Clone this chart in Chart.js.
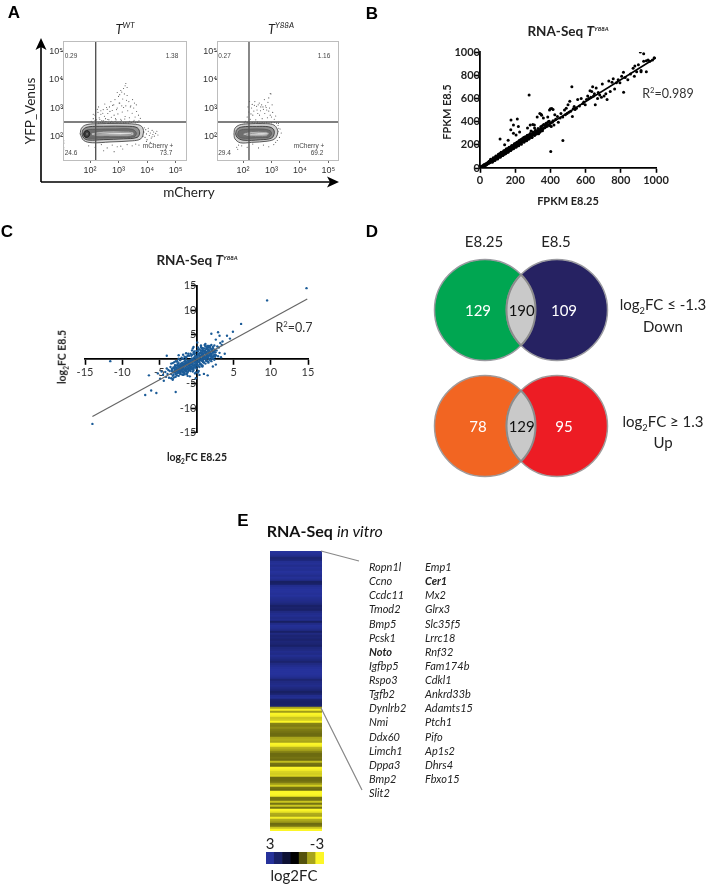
<!DOCTYPE html>
<html><head><meta charset="utf-8">
<script src="https://cdn.jsdelivr.net/npm/chart.js@4"></script>
<style>
html,body{margin:0;padding:0;background:#fff;width:709px;height:886px;overflow:hidden}
#root{position:absolute;left:0;top:0;width:709px;height:886px;filter:blur(.35px)}
canvas{position:absolute}
.t{position:absolute;white-space:nowrap;font-family:Lato,sans-serif;color:#222;line-height:1}
.t sup,.t sub{font-size:62%;line-height:0}
svg{position:absolute;left:0;top:0}
</style></head><body><div id="root">
<svg width="709" height="886" id="ov" style="z-index:5">
<path d="M41 182V44M41 182H332" stroke="#000" stroke-width="1.6" fill="none"/>
<path d="M41 38L35.500 50L41 47L46.500 50Z M339 182L327 176.500L330 182L327 187.500Z" fill="#000"/>
<path d="M321 551L359 561M321 708L362 790" stroke="#888" stroke-width="1.2" fill="none"/>
</svg>
</div>
<script>
// ---------- Panel A: flow cytometry ----------
const flowTicks=[100,1000,10000,100000];
const flowTickLabels=['10²','10³','10⁴','10⁵'];
const wtX=[110,130,150,170,190,210,240,260,290,320,350,380,420,460,500,560,620,700,780,850,950,1050,1200,1350,1500,1700,1900,2100,2400,2700,3000,3400,3800,4300,5000,5800,
130,180,200,240,280,330,400,480,540,600,680,750,900,1000,1100,1300,1400,1600,1800,2000,2300,2600,3100,3600,4200,900,1200,1500,1700,1800,2000,1100,1300,
7200,7800,8500,9000,9500,10000,11000,12000,13000,14000,15000,16000,17000,18000,20000,22000,24000,8000,9500,11000,13000,15000,
90,150,250,400,600,900,1400,2000,3000,4000,5200,300,700,1200,12,12,12,12,12,40,45,50,55,60,70,80,
120,160,200,230,270,310,360,440,520,640,760,880,1000,1150,1500,1800,2200,2800,3300,3900,4700,150,220,300,420,580,820,1250,1650,2400,3500,5200];
const wtY=[340,420,560,380,700,450,600,360,880,510,420,1050,640,380,760,470,1250,560,420,880,620,1500,400,720,1050,500,1900,800,450,1200,650,1000,480,750,560,430,
600,900,1100,800,650,1400,900,1100,1700,820,1300,2000,1000,2600,1500,1200,2100,3200,1200,2800,1700,1100,2000,1500,1300,3600,4200,5000,6200,7500,5400,3000,3700,
100,140,90,170,120,75,150,105,130,85,160,115,140,100,125,150,110,200,65,190,60,95,
45,40,50,38,48,42,35,50,45,52,48,30,28,44,35,40,55,62,70,12,12,12,12,12,12,12,
300,310,295,305,315,300,330,295,310,300,340,305,295,320,300,310,295,305,330,300,310,360,400,350,390,340,380,360,410,340,370,350];
const yX=[120,140,160,180,200,220,250,280,310,340,380,420,470,520,580,650,720,800,900,1000,1100,1250,1400,
150,170,190,210,240,260,300,330,370,410,450,500,560,620,680,750,850,950,800,900,1050,
1500,1700,1900,2200,1600,1800,2000,1400,1700,90,140,220,350,520,800,1200,60,65,70,12.300,12.300,12.300,12.300,45,55,65,80,
110,140,170,210,260,320,390,470,560,680,820,1000,1250,1500,1750];
const yY=[340,480,720,400,1000,560,1250,380,850,1300,560,1100,420,900,640,1050,450,780,560,480,700,400,520,
1100,1700,620,1350,780,1700,1150,640,1500,800,1300,1100,2000,1200,850,1600,1000,3200,2300,3300,1300,
110,150,90,130,70,190,180,60,240,45,40,52,38,48,42,50,40,34,48,38,45,58,70,12.500,12.500,12.500,12.500,
300,310,295,305,300,315,295,305,300,310,295,300,305,290,285];
const wtContours=[
 [[45,120],[50,190],[70,250],[150,275],[1000,280],[4000,265],[6500,220],[7500,140],[6000,80],[3000,68],[500,62],[120,58],[60,70],[45,120]],
 [[52,120],[58,175],[90,215],[300,225],[2000,225],[4500,200],[5500,130],[4500,90],[1500,80],[300,75],[90,72],[60,85],[52,120]],
 [[58,120],[70,160],[150,175],[800,180],[3000,175],[4200,130],[3500,95],[1000,88],[200,85],[80,85],[62,100],[58,120]],
 [[110,130],[300,150],[1500,150],[3200,140],[3400,110],[2000,100],[500,100],[120,105],[110,130]],
 [[140,120],[500,130],[2800,130],[2800,115],[500,112],[140,115],[140,120]],
 [[60,118],[68,150],[85,155],[98,125],[88,95],[68,92],[60,118]],
 [[72,120],[78,132],[86,120],[78,108],[72,120]]];
const yContours=[
 [[48,120],[52,190],[75,250],[150,275],[500,280],[1100,260],[1500,200],[1650,130],[1300,80],[700,66],[200,60],[80,58],[52,80],[48,120]],
 [[55,120],[60,170],[90,212],[300,222],[800,215],[1150,180],[1250,125],[1000,85],[400,74],[100,72],[62,90],[55,120]],
 [[65,120],[75,160],[150,176],[500,178],[900,155],[1000,120],[800,92],[300,86],[90,85],[68,100],[65,120]],
 [[100,125],[200,145],[600,145],[820,125],[650,100],[200,98],[105,108],[100,125]],
 [[130,118],[350,130],[780,126],[700,112],[300,110],[135,112],[130,118]]];
const contourFill=['#d0d0d0','#8e8e8e','#6e6e6e','#bdbdbd','#f6f6f6','#3e3e3e','#e4e4e4'];
const contourLine=['#333','#2a2a2a','#555','#666','#888','#111','#222'];
const wtGate={x:158,y:320},yGate={x:162,y:320};
const flowXRange=[[11.300,251000],[12.200,234000]],flowYRange=[13,245000];
const wtQuad=['0.29','1.38','24.6','73.7'],yQuad=['0.27','1.16','29.4','69.2'];

// ---------- Panel B ----------
const bE825=[3,5,8,10,12,15,18,20,22,25,28,30,33,35,38,40,42,45,48,50,52,55,58,60,63,65,68,70,72,75,78,80,83,85,88,90,92,95,98,100,
100,103,105,108,110,112,115,118,120,122,125,128,130,133,135,138,140,142,145,148,150,153,155,158,160,163,165,168,170,172,175,178,180,183,185,188,190,192,195,198,200,
105,115,125,135,145,155,165,175,185,195,60,70,80,90,100,110,120,130,140,150,160,170,
203,205,208,210,212,215,218,220,222,225,228,230,233,235,238,240,243,245,248,250,253,255,258,260,263,265,268,270,273,275,278,280,283,285,288,290,293,295,298,300,
305,310,315,318,322,325,330,333,338,340,345,348,352,355,360,363,368,370,375,378,382,385,390,393,398,400,405,410,415,420,
176,212,190,218,114,175,190,205,225,140,160,270,285,300,325,340,350,360,385,400,415,425,290,310,347,395,408,309,
430,440,445,455,460,470,480,485,490,495,500,505,510,515,525,530,535,540,548,555,565,575,585,590,598,605,612,618,625,630,635,640,645,650,655,660,668,672,680,690,695,705,715,722,732,740,750,757,765,775,785,795,805,815,825,840,855,870,880,890,900,915,930,945,955,965,980,990,
279,522,402,471,816,911,930,877,915,945,
60,75,90,105,120,135,150,165,180,195,210,225,240,255,270,285,300,315,330,345,360,375,390,
70,85,100,115,130,145,160,175,190,205,220,235,250,265,280,295,310,325,340,355];
const bE85=[8,2,14,6,18,9,12,26,15,30,18,24,36,25,30,44,34,38,52,41,58,46,50,64,54,70,56,62,78,66,62,84,72,90,76,82,100,80,92,104,
85,112,92,118,98,122,100,124,105,132,110,136,114,140,120,118,148,125,156,130,160,135,152,140,168,150,172,148,178,155,180,160,186,165,190,170,196,172,200,180,208,
108,112,122,130,140,146,158,168,176,186,60,70,78,90,96,108,116,124,132,142,150,162,
188,214,190,220,196,222,200,232,205,212,238,210,245,218,225,250,228,236,262,232,240,258,236,270,245,252,280,255,262,248,285,262,270,292,268,278,275,262,298,285,
292,305,288,312,298,322,310,296,330,318,340,322,362,335,342,375,348,368,355,380,360,395,372,402,365,385,358,395,408,370,
414,423,371,357,251,330,300,285,310,200,240,345,370,375,440,470,455,430,440,510,505,460,320,345,463,500,514,371,
420,445,395,430,470,440,500,460,515,470,545,480,575,490,445,510,530,505,515,590,535,600,555,570,545,590,620,600,665,610,660,700,620,640,545,690,600,650,630,610,725,620,640,590,750,660,740,770,680,735,760,735,790,825,780,760,810,860,880,830,890,840,920,925,930,920,930,950,
629,700,143,237,654,1000,985,791,829,829,
75,88,104,118,135,148,165,178,195,208,222,240,252,268,282,298,310,325,340,355,370,385,400,
50,65,78,92,108,122,135,150,165,178,192,205,222,235,252,265,280,295,308,322];
const bLineX=[0,1000],bLineY=[5,950];

// ---------- Panel C ----------
const cE825=[14.8,9.5,6,-14,-6.9,-6.1,-5.4,-6.4,-2.8,-4,3.8,4.9,4.1,3.1,2.9,2,-11.6,4.5,3.5,2.6,
-5.2,-4.9,-4.7,-4.5,-4.4,-4.2,-4.1,-4,-3.9,-3.8,-3.7,-3.6,-3.5,-3.4,-3.3,-3.2,-3.1,-3,-2.9,-2.8,
-3,-2.95,-2.9,-2.85,-2.8,-2.75,-2.7,-2.65,-2.6,-2.55,-2.5,-2.45,-2.4,-2.35,-2.3,-2.25,-2.2,-2.15,-2.1,-2.05,-2,
-2,-1.95,-1.9,-1.85,-1.8,-1.75,-1.7,-1.65,-1.6,-1.55,-1.5,-1.45,-1.4,-1.35,-1.3,-1.25,-1.2,-1.15,-1.1,-1.05,-1,
-1.95,-1.85,-1.75,-1.65,-1.55,-1.45,-1.35,-1.25,-1.15,-1.05,-1.9,-1.7,-1.5,-1.3,-1.1,-2.4,-2.2,-2.6,-1.8,-1.6,-1.4,-1.2,
-1,-.95,-.9,-.85,-.8,-.75,-.7,-.65,-.6,-.55,-.5,-.45,-.4,-.35,-.3,-.25,-.2,-.15,-.1,-.05,0,
-.95,-.85,-.75,-.65,-.55,-.45,-.35,-.25,-.15,-.05,-.9,-.7,-.5,-.3,-.1,
.05,.1,.15,.2,.25,.3,.35,.4,.45,.5,.55,.6,.65,.7,.75,.8,.85,.9,.95,1,
.05,.15,.25,.35,.45,.55,.65,.75,.85,.95,.1,.3,.5,.7,.9,.2,.4,.6,.8,1,
1,1.05,1.1,1.15,1.2,1.25,1.3,1.35,1.4,1.45,1.5,1.55,1.6,1.65,1.7,1.75,1.8,1.85,1.9,1.95,2,
1.05,1.15,1.25,1.35,1.45,1.55,1.65,1.75,1.85,1.95,1.1,1.3,1.5,1.7,1.9,1.2,1.4,1.6,1.8,2,
2.05,2.1,2.15,2.2,2.25,2.3,2.35,2.4,2.45,2.5,2.55,2.6,2.7,2.8,2.9,3,3.1,3.2,3.3,3.4,
.2,.6,1,1.5,-.5,-.9,-1.4,-.2,.4,.8,-.6,.1,-1.8,-1.1,2.2,2.6,-3.2,-2.4,-.4,.7,.3,-.1,-.3,
-3.4,-3.2,-3,-2.8,-2.6,-2.4,-2.2,-2,-1.8,-1.6,-1.4,-1.2,-1,-.8,-.6,-.4,-.2,0,.2,.4,.6,.8,1,1.2,1.4,1.6,1.8,2,2.2,2.4,
-3.4,-3.2,-3,-2.8,-2.6,-2.4,-2.2,-2,-1.8,-1.6,-1.4,-1.2,-1,-.8,-.6,-.4,-.2,0,.2,.4,.6,.8,1,1.2,1.4,1.6,1.8,2,2.2,2.4,
-3.3,-3.1,-2.9,-2.7,-2.5,-2.3,-2.1,-1.9,-1.7,-1.5,-1.3,-1.1,-.9,-.7,-.5,-.3,-.1,.1,.3,.5,.7,.9,1.1,1.3,1.5,1.7,1.9,2.1,2.3,2.5,
-3.3,-3.1,-2.9,-2.7,-2.5,-2.3,-2.1,-1.9,-1.7,-1.5,-1.3,-1.1,-.9,-.7,-.5,-.3,-.1,.1,.3,.5,.7,.9,1.1,1.3,1.5,1.7,1.9,2.1,2.3,2.5];
const cE85=[14.5,12,7.2,-13.2,-7.3,-6.4,-6.9,-3.3,-6.7,.7,1.1,5.6,4.8,4.8,5.5,5.2,-.4,4.2,3.6,4,
-2.9,-4,-2.5,-3.2,-4.4,-2.6,-3.6,-1.9,-3,-2.2,-3.8,-2.4,-1.6,-3,-2,-3.4,-1.7,-2.6,-1.2,-3.1,
-1.9,-2.3,-2.7,-1.6,-2.1,-1.3,-2.5,-1.8,-2.2,-1,-2.8,-1.5,-1.9,-2.4,-1.2,-2,-1.6,-2.6,-.9,-1.8,-2.3,
-1.3,-2.1,-.7,-1.7,-2.5,-1,-1.5,-.5,-2.2,-1.2,-1.8,-.6,-2.4,-.9,-1.5,-2,-.3,-1.1,-1.7,-.6,-1.3,
-1.7,-1.1,-1.9,-1.3,-.9,-2.2,-1.4,-.7,-2,-1,-.8,-2.7,-.2,-3,-2.4,-.8,-2.8,-.5,-3.2,-3.1,.3,-3.4,
-.3,-1.4,-.8,-1.9,-.2,-1.1,-.5,-1.6,.1,-.9,-1.2,-.3,-1.7,.3,-.7,-1.1,.5,-.4,-1.4,.2,-.6,
-1,-.4,-1.5,.1,-.8,-1.9,-.1,-1.3,.6,-.5,-2.2,.7,-2.5,1,-2.7,
-.1,.6,-.6,1,.1,-.4,.8,.3,1.2,-.2,.7,1.4,.1,.9,-.3,1.5,.4,1.1,.6,1.7,
-.8,.2,1.1,-.5,.5,1.4,-.1,.9,1.9,.2,1.7,2,-.9,2.2,-.4,2.4,-1.1,2.5,-.2,.4,
.2,1.3,.7,1.8,.3,1.1,2.1,.6,1.5,.9,2.3,.4,1.2,1.9,.7,1.4,2.5,.9,1.6,1.1,2,
.5,1.6,.2,1.2,2.7,.7,1.8,.1,1.3,.5,2.9,-.2,.8,2.4,1,3.1,.3,-.5,2.7,.6,
.9,1.6,.4,1.3,2.2,.7,1.5,.9,1.9,.5,1.4,.8,1.8,2.6,.6,2.4,1.3,3.3,.4,2.9,
-2.7,2.8,-3,-3.3,2.2,-3.5,1.2,-2.9,-3.2,-1.5,1.8,3.4,.9,1.1,-1.5,-1.1,-4.2,.8,2.5,-1.4,-2.4,-3.9,1.6,
-.9,-.8,-.6,-.4,-.4,.1,-.2,.3,.1,.5,.4,.7,.7,1.1,.9,1.3,1.2,1.7,1.6,2,1.8,2.3,2.2,2.6,2.4,2.7,2.6,2.9,2.5,2.8,
-3.9,-4,-3.7,-3.6,-3.3,-3.4,-3,-3.1,-2.7,-2.9,-2.5,-2.7,-2.2,-2.4,-2,-2.2,-1.7,-1.9,-1.4,-1.6,-1.1,-1.3,-.7,-.9,-.4,-.7,-.1,-.4,.1,-.1,
-2.4,-3.2,-1.5,-2.9,-1.3,-2.7,-1.2,-2.6,-1,-2.4,-.6,-2.1,-.5,-1.8,-.2,-1.6,.4,-1.2,.8,-.9,1.2,-.6,1.5,-.3,1.9,0,2.2,.2,1.4,.9,
-2,-2.7,-2.2,-1.8,-2.4,-1.6,-2.3,-1.4,-2.1,-1.1,-1.9,-.9,-1.6,-.5,-1.3,-.2,-1,.2,-.6,.6,-.3,.9,.1,1.2,.4,1.5,.8,1.9,.6,1.8];
const cLineX=[-14,14.9],cLineY=[-11.7,12.3];

// ---------- Panel D ----------
const vennCols=[0,1],vennRows=[0,1];
const downCounts=[129,190,109],upCounts=[78,129,95];

// ---------- Panel E ----------
const heatValues=[3,2.9,2.7,2.2,2.3,2.8,2.9,2.7,2.9,2.8,3,2.9,2.7,2.9,2.7,1.9,2,2.7,2.9,3,3,2.9,3,2.8,2.7,2.6,2.4,2,2.1,2,2.5,2.7,2.8,2.6,2.7,1.9,2.6,2.9,2.8,2.6,2,2.5,2.2,2.3,2.1,2.3,2.2,2,2.4,2.5,2.7,2.6,2.8,2.6,2.4,2.1,2.5,2.7,2.9,3,3,3,2.9,2.7,2.2,2.5,2.6,2.7,2.5,2.3,1.9,2.1,2.7,2.8,2.1,2,2,2.1,
-2,-2.9,-1.9,-3,-2.9,-2.4,-2.5,-3,-1.6,-1.5,-1.7,-1.5,-1.4,-1.3,-1.3,-2,-2.1,-2,-3,-2.9,-2.2,-2,-1.6,-1.3,-1.3,-1.4,-1.3,-2.3,-1.4,-1.3,-3,-2.9,-2.6,-2.5,-2.6,-1.3,-1.3,-1.4,-1.9,-2.5,-1.4,-1.3,-3,-3,-2.9,-1.4,-1.4,-2.4,-1.4,-2.4,-1.4,-3,-2.8,-2.1,-2,-2.9,-2.1,-1.9,-1.3,-1.4,-2.4,-3];
const legendSteps=[3,2,1,0,-1,-2,-3];
const genes1=['Ropn1l','Ccno','Ccdc11','Tmod2','Bmp5','Pcsk1','Noto','Igfbp5','Rspo3','Tgfb2','Dynlrb2','Nmi','Ddx60','Limch1','Dppa3','Bmp2','Slit2'];
const genes2=['Emp1','Cer1','Mx2','Glrx3','Slc35f5','Lrrc18','Rnf32','Fam174b','Cdkl1','Ankrd33b','Adamts15','Ptch1','Pifo','Ap1s2','Dhrs4','Fbxo15'];
const boldGenes=['Noto','Cer1'];

// ---------- helpers ----------
const root=document.getElementById('root');
function mix(v){
  const c=v>=0?[38,50,155]:[252,246,40],a=Math.min(1,Math.abs(v)/3);
  return `rgb(${c.map(k=>Math.round(k*a)).join(',')})`;
}
const zip=(xs,ys)=>xs.map((x,i)=>({x,y:ys[i]}));
function mk(c,p,config){
  const cv=document.createElement('canvas');
  cv.width=c.w;cv.height=c.h;
  cv.style.cssText=`left:${c.l}px;top:${c.t}px;width:${c.w}px;height:${c.h}px`;
  root.appendChild(cv);
  config.options=Object.assign({responsive:false,animation:false,events:[],
    layout:{autoPadding:false,padding:{left:p.l-c.l,top:p.t-c.t,right:c.l+c.w-p.r,bottom:c.t+c.h-p.b}},
    plugins:{legend:{display:false},tooltip:{enabled:false}}},config.options);
  return new Chart(cv.getContext('2d'),config);
}
function txt(html,x,y,size,o={}){
  const d=document.createElement('div');d.className='t';d.innerHTML=html;
  const ax=o.anchor==='left'?'0':o.anchor==='right'?'-100%':'-50%';
  d.style.cssText=`left:${x}px;top:${y}px;font-size:${size}px;transform:translate(${ax},-50%) ${o.rot?`rotate(${o.rot}deg)`:''};`+
    (o.bold?'font-weight:700;':'')+(o.italic?'font-style:italic;':'')+(o.color?`color:${o.color};`:'')+(o.family?`font-family:${o.family};`:'');
  root.appendChild(d);
}
// ---------- A charts ----------
const boxPlugin={id:'box',afterDraw(ch){const a=ch.chartArea,g=ch.ctx;g.save();g.strokeStyle='#bdbdbd';g.lineWidth=1;g.strokeRect(a.left+.5,a.top+.5,a.width-1,a.height-1);g.restore();}};
function flow(c,p,xs,ys,contours,gate,xr){
  const ds=[];
  ds.push({data:zip(xs,ys),pointRadius:.55,pointBackgroundColor:'#555',pointBorderWidth:0,showLine:false,order:20});
  contours.forEach((cc,i)=>ds.push({data:cc.map(q=>({x:q[0],y:q[1]})),showLine:true,pointRadius:0,tension:.35,
    borderColor:contourLine[i],borderWidth:.8,backgroundColor:contourFill[i],fill:'shape',order:10-i}));
  ds.push({data:[{x:gate.x,y:flowYRange[0]},{x:gate.x,y:flowYRange[1]}],showLine:true,pointRadius:0,borderColor:'#555',borderWidth:1.4,order:0});
  ds.push({data:[{x:xr[0],y:gate.y},{x:xr[1],y:gate.y}],showLine:true,pointRadius:0,borderColor:'#555',borderWidth:1.4,order:0});
  const tickset={autoSkip:false,maxRotation:0,color:'#333',padding:2,font:{family:'Liberation Sans',size:9},callback:v=>flowTickLabels[flowTicks.indexOf(v)]||''};
  mk(c,p,{type:'scatter',data:{datasets:ds},plugins:[boxPlugin],options:{scales:{
    x:{type:'logarithmic',min:xr[0],max:xr[1],position:{y:flowYRange[0]},afterBuildTicks:a=>{a.ticks=flowTicks.map(v=>({value:v}));},
       grid:{drawOnChartArea:false,tickLength:2,color:'#666'},border:{display:false},ticks:tickset},
    y:{type:'logarithmic',min:flowYRange[0],max:flowYRange[1],position:{x:xr[0]},afterBuildTicks:a=>{a.ticks=flowTicks.map(v=>({value:v}));},
       grid:{drawOnChartArea:false,tickLength:2,color:'#666'},border:{display:false},ticks:tickset}}}});
}
flow({l:40,t:30,w:160,h:150},{l:63,t:41,r:187,b:161},wtX,wtY,wtContours,wtGate,flowXRange[0]);
flow({l:195,t:30,w:160,h:150},{l:217,t:41,r:339,b:161},yX,yY,yContours,yGate,flowXRange[1]);

// ---------- B chart ----------
const plainNum=v=>String(v);
mk({l:430,t:40,w:245,h:150},{l:480,t:52,r:656,b:168},{type:'scatter',data:{datasets:[
 {data:zip(bLineX,bLineY),showLine:true,pointRadius:0,borderColor:'#000',borderWidth:1.6,order:0},
 {data:zip(bE825,bE85),pointRadius:1.5,pointBackgroundColor:'#000',pointBorderWidth:0,showLine:false,order:1}]},
 options:{scales:{
  x:{type:'linear',min:0,max:1000,position:{y:0},ticks:{stepSize:200,maxRotation:0,color:'#222',padding:2,callback:plainNum,font:{family:'Lato',size:11,weight:'bold'}},grid:{drawOnChartArea:false,tickLength:4,tickWidth:1.6,tickColor:'#000'},border:{color:'#000',width:1.8}},
  y:{type:'linear',min:0,max:1000,position:{x:0},ticks:{stepSize:200,color:'#222',padding:1,callback:plainNum,font:{family:'Lato',size:11,weight:'bold'}},grid:{drawOnChartArea:false,tickLength:4,tickWidth:1.6,tickColor:'#000'},border:{color:'#000',width:1.8}}}}});

// ---------- C chart ----------
const cTick=v=>v===0?'':String(v);
mk({l:60,t:275,w:265,h:170},{l:85,t:285.700,r:308,b:432.700},{type:'scatter',data:{datasets:[
 {data:zip(cLineX,cLineY),showLine:true,pointRadius:0,borderColor:'#666',borderWidth:1.2,order:0},
 {data:zip(cE825,cE85),pointRadius:1.2,pointBackgroundColor:'#1c5c98',pointBorderWidth:0,showLine:false,order:1}]},
 options:{scales:{
  x:{type:'linear',min:-15,max:15,position:{y:0},ticks:{stepSize:5,maxRotation:0,color:'#333',padding:2,font:{family:'Lato',size:11},callback:cTick},grid:{drawOnChartArea:false,tickLength:5,tickWidth:1.6,tickColor:'#000'},border:{color:'#000',width:1.8}},
  y:{type:'linear',min:-15,max:15,position:{x:0},ticks:{stepSize:5,color:'#333',padding:1,font:{family:'Lato',size:11},callback:cTick},grid:{drawOnChartArea:false,tickLength:5,tickWidth:1.6,tickColor:'#000'},border:{color:'#000',width:1.8}}}}});

// ---------- D chart ----------
const lensPlugin={id:'lens',afterDatasetsDraw(ch){
  const g=ch.ctx,R=50.500;
  [0,1].forEach(d=>{
    const [a,b]=ch.getDatasetMeta(d).data;
    g.save();
    g.beginPath();g.arc(a.x,a.y,R,0,7);g.clip();
    g.beginPath();g.arc(b.x,b.y,R,0,7);
    g.fillStyle='#c9c9c9';g.fill();
    g.strokeStyle='#8c8c8c';g.lineWidth=2;g.stroke();
    g.restore();
    g.save();
    g.beginPath();g.arc(b.x,b.y,R,0,7);g.clip();
    g.beginPath();g.arc(a.x,a.y,R,0,7);
    g.strokeStyle='#8c8c8c';g.lineWidth=2;g.stroke();
    g.restore();
  });
}};
mk({l:431,t:252,w:180,h:232},{l:431,t:252,r:611,b:484},{type:'scatter',data:{datasets:[
 {data:[{x:vennCols[0],y:vennRows[0]},{x:vennCols[1],y:vennRows[0]}],pointRadius:50.500,pointBackgroundColor:['#00a651','#262262'],pointBorderColor:'#9a9aa0',pointBorderWidth:1.5,showLine:false},
 {data:[{x:vennCols[0],y:vennRows[1]},{x:vennCols[1],y:vennRows[1]}],pointRadius:50.500,pointBackgroundColor:['#f26522','#ed1c24'],pointBorderColor:'#a09a9a',pointBorderWidth:1.5,showLine:false}]},
 plugins:[lensPlugin],
 options:{scales:{x:{type:'linear',display:false,min:-.75,max:1.750},y:{type:'linear',display:false,reverse:true,min:-.5,max:1.500}}}});

// ---------- E charts ----------
mk({l:270,t:551,w:52,h:280},{l:270,t:551,r:322,b:831},{type:'bar',data:{labels:heatValues.map((_,i)=>String(i)),datasets:[
 {data:heatValues.map(()=>1),backgroundColor:heatValues.map(mix),barPercentage:1,categoryPercentage:1,borderWidth:0}]},
 options:{indexAxis:'y',scales:{x:{type:'linear',display:false,min:0,max:1},y:{type:'category',display:false}}}});
mk({l:266,t:852,w:58,h:12},{l:266,t:852,r:324,b:864},{type:'bar',data:{labels:legendSteps.map(String),datasets:[
 {data:legendSteps.map(()=>1),backgroundColor:legendSteps.map(mix),barPercentage:1,categoryPercentage:1,borderWidth:0}]},
 options:{scales:{y:{type:'linear',display:false,min:0,max:1},x:{type:'category',display:false}}}});

// ---------- text ----------
const P={family:'"Liberation Sans",sans-serif',bold:true,color:'#000'};
txt('A',14,12,17,P);txt('B',372,13,17,P);txt('C',7,231,17,P);txt('D',372,231,17,P);txt('E',243,520,17,P);
txt('T<sup>WT</sup>',125,29,13,{italic:true});txt('T<sup>Y88A</sup>',281,29,13,{italic:true});
const q={family:'"Liberation Sans",sans-serif',color:'#444'};
txt(wtQuad[0],71,56,6.5,q);txt(wtQuad[1],172,56,6.5,q);txt(wtQuad[2],71,153,6.5,q);txt('mCherry +',158,146,6.5,q);txt(wtQuad[3],166,153,6.5,q);
txt(yQuad[0],224.500,56,6.5,q);txt(yQuad[1],324,56,6.5,q);txt(yQuad[2],224.500,153,6.5,q);txt('mCherry +',309,146,6.5,q);txt(yQuad[3],317,153,6.5,q);
txt('YFP_Venus',31,111,13.5,{rot:-90});txt('mCherry',189,193,13.5);
const title='RNA-Seq <i>T</i><sup style="font-style:italic;font-size:45%">Y88A</sup>';
txt(title,568,32,13.5,{bold:true});txt(title,197,261,13.5,{bold:true});
txt('R<sup>2</sup>=0.989',668,94,12.5,{color:'#333'});txt('R<sup>2</sup>=0.7',294,328,12.5,{color:'#333'});
txt('FPKM E8.25',568,200,11,{bold:true});txt('FPKM E8.5',446,112,11,{bold:true,rot:-90});
txt('log<sub>2</sub>FC E8.25',197,457,10.5,{bold:true});txt('log<sub>2</sub>FC E8.5',62,357,10.5,{bold:true,rot:-90});
txt('E8.25',484,241,15);txt('E8.5',556,241,15);
const xs=[478,521.700,564],colr=['#fff','#111','#fff'];
downCounts.forEach((v,i)=>txt(String(v),xs[i],310,15,{color:colr[i]}));
upCounts.forEach((v,i)=>txt(String(v),xs[i],426,15,{color:colr[i]}));
txt('log<sub>2</sub>FC ≤ -1.3',663,304,15);txt('Down',663,326,15);
txt('log<sub>2</sub>FC ≥ 1.3',663,421,15);txt('Up',663,442,15);
txt('<b>RNA-Seq</b> <i>in vitro</i>',266.700,531,16,{anchor:'left',color:'#111'});
genes1.forEach((g,i)=>txt(g,369,566+i*14.130,11,{anchor:'left',italic:true,bold:boldGenes.includes(g)}));
genes2.forEach((g,i)=>txt(g,425,566+i*14.130,11,{anchor:'left',italic:true,bold:boldGenes.includes(g)}));
txt('3',270,843,15);txt('-3',317,843,15);txt('log2FC',294,875,15);
</script></body></html>
